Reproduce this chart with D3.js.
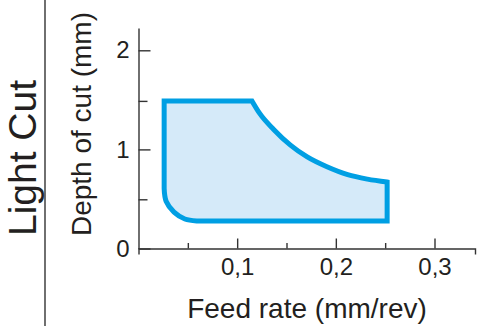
<!DOCTYPE html>
<html>
<head>
<meta charset="utf-8">
<script src="https://cdn.jsdelivr.net/npm/d3@7"></script>
<style>
  body { margin: 0; background: #fff; }
  svg { display: block; }
  text { font-family: "Liberation Sans", Arial, sans-serif; fill: #231f20; }
</style>
</head>
<body>
<svg id="chart" width="478" height="326"></svg>
<script>
// region outline, feed rate (mm/rev) vs depth of cut (mm)
const topEdge = [[0.026, 1.5], [0.115, 1.5]];
const upperCurve = [[0.115, 1.5], [0.123, 1.37], [0.137, 1.21], [0.154, 1.05], [0.171, 0.93],
                    [0.191, 0.83], [0.212, 0.75], [0.232, 0.705], [0.252, 0.675]];
const rightBottom = [[0.252, 0.675], [0.252, 0.28], [0.059, 0.28]];
const lowerCorner = [[0.059, 0.28], [0.047, 0.30], [0.036, 0.37], [0.028, 0.48], [0.026, 0.61]];

const xTicks = [0.1, 0.2, 0.3];
const xMinor = [0.05, 0.15, 0.25];
const yTicks = [0, 1, 2];
const yMinor = [0.5, 1.5];

const svg = d3.select("#chart");

const x = d3.scaleLinear().domain([0, 0.3]).range([138.5, 434.5]);
const y = d3.scaleLinear().domain([0, 2]).range([248.5, 51.7]);

// divider on the left
svg.append("line")
  .attr("x1", 45).attr("x2", 45).attr("y1", 0).attr("y2", 326)
  .attr("stroke", "#333").attr("stroke-width", 1.4);

svg.append("text")
  .attr("transform", "translate(36,158) rotate(-90)")
  .attr("text-anchor", "middle")
  .style("font-size", "39px")
  .text("Light Cut");

svg.append("text")
  .attr("transform", "translate(91,124) rotate(-90)")
  .attr("text-anchor", "middle")
  .style("font-size", "28px")
  .text("Depth of cut (mm)");

svg.append("text")
  .attr("x", 307).attr("y", 318)
  .attr("text-anchor", "middle")
  .style("font-size", "28px")
  .text("Feed rate (mm/rev)");

// shaded region
function seg(pts, curve) {
  return d3.line().x(d => x(d[0])).y(d => y(d[1])).curve(curve)(pts);
}
const parts = [
  seg(topEdge, d3.curveLinear),
  seg(upperCurve, d3.curveMonotoneX),
  seg(rightBottom, d3.curveLinear),
  seg(lowerCorner, d3.curveCatmullRom)
];
const outline = parts.map((p, i) => i ? p.replace(/^M/, "L") : p).join("") + "Z";

svg.append("path")
  .attr("d", outline)
  .attr("fill", "#d5eaf9")
  .attr("stroke", "#009fe3")
  .attr("stroke-width", 5)
  .attr("stroke-linejoin", "miter");

// axes
const fmt = d => d3.format(".1f")(d).replace(".", ",");

const xAxis = svg.append("g")
  .attr("transform", `translate(0,${y(0)})`)
  .call(d3.axisBottom(x.copy().domain([0, 0.3425]).range([138.5, 475])))
  .call(g => g.selectAll(".tick").remove());
xAxis.append("g").call(d3.axisBottom(x)
    .tickValues(xTicks).tickFormat(fmt).tickSizeInner(-10).tickSizeOuter(0).tickPadding(9.5))
  .select(".domain").remove();
xAxis.append("g").call(d3.axisBottom(x).tickValues(xMinor).tickFormat("").tickSizeInner(-5.5).tickSizeOuter(0))
  .select(".domain").remove();

const yAxis = svg.append("g")
  .attr("transform", `translate(${x(0)},0)`)
  .call(d3.axisLeft(y.copy().domain([0, 2.225]).range([248.5, 28]))
    .tickValues(yTicks).tickFormat(d3.format("d")).tickSizeInner(-12).tickSizeOuter(0).tickPadding(9));
yAxis.append("g").call(d3.axisLeft(y).tickValues(yMinor).tickFormat("").tickSizeInner(-9).tickSizeOuter(0))
  .select(".domain").remove();

svg.selectAll(".domain, .tick line").attr("stroke", "#333").attr("stroke-width", 1.4);
svg.selectAll(".tick text").style("font-size", "24px").attr("fill", "#231f20");
</script>
</body>
</html>
